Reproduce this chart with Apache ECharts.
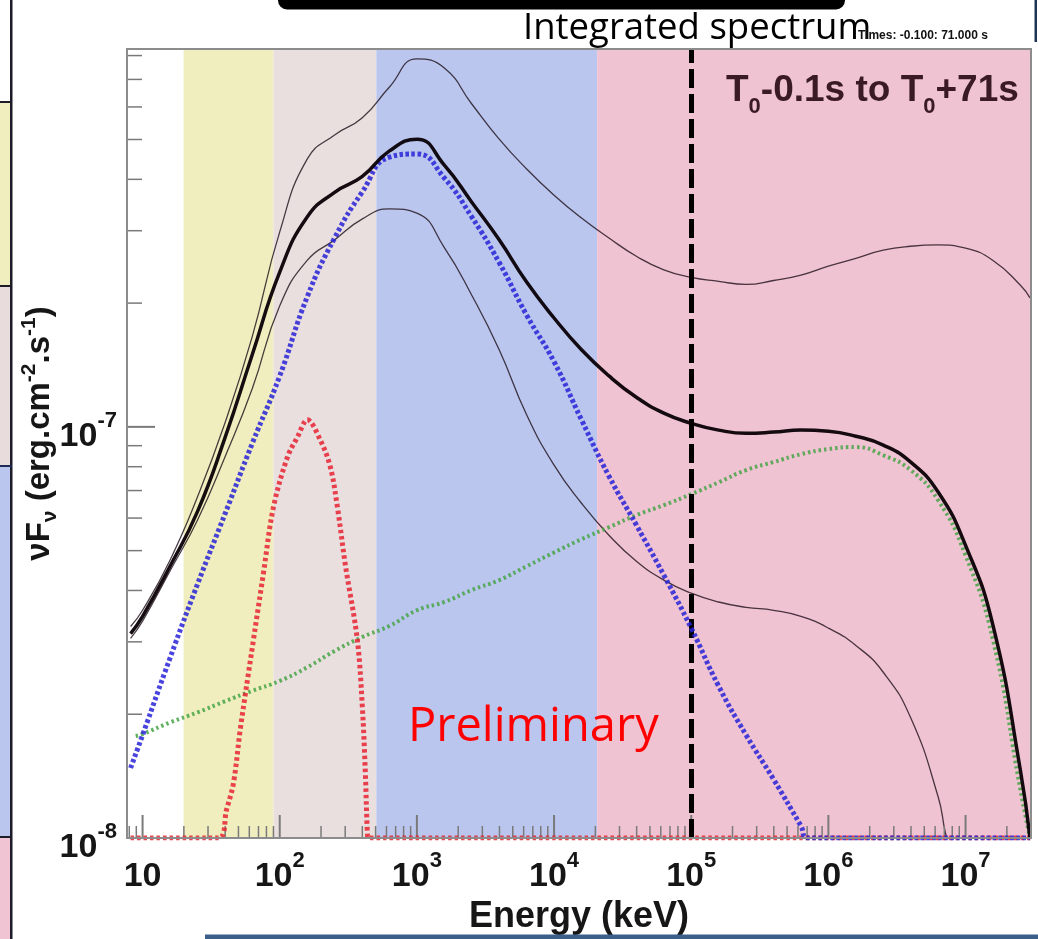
<!DOCTYPE html>
<html>
<head>
<meta charset="utf-8">
<script src="https://cdn.jsdelivr.net/npm/echarts@6/dist/echarts.min.js"></script>
<style>
html,body{margin:0;padding:0;background:#ffffff;}
#chart{width:1038px;height:939px;}
</style>
</head>
<body>
<div id="chart"></div>
<script>
// ---------------- data ----------------
const X_MIN = 7.7, X_MAX = 3.0e7;          // keV
const Y_MIN = 1e-8, Y_MAX = 8.3e-7;        // erg cm^-2 s^-1

// energy grid (keV) shared by total model and upper envelope
const energyGrid = [8.18, 10, 15.85, 25.12, 39.81, 63.1, 100, 158.5, 251.2, 398.1, 631, 1000,
  1585, 2512, 3981, 6310, 1e4, 1.585e4, 2.512e4, 3.981e4, 6.31e4, 1e5, 1.585e5, 2.512e5,
  3.981e5, 6.31e5, 1e6, 1.585e6, 2.512e6, 3.981e6, 6.31e6, 1e7, 1.585e7, 2.512e7, 2.95e7];

const totalFlux = [3.14e-8, 3.46e-8, 4.58e-8, 6.22e-8, 9.39e-8, 1.50e-7, 2.38e-7, 3.24e-7, 3.72e-7,
  4.06e-7, 4.69e-7, 5.01e-7, 4.33e-7, 3.52e-7, 2.85e-7, 2.25e-7, 1.84e-7, 1.54e-7, 1.33e-7,
  1.18e-7, 1.08e-7, 1.02e-7, 9.82e-8, 9.65e-8, 9.71e-8, 9.82e-8, 9.76e-8, 9.49e-8, 9.03e-8,
  8.21e-8, 6.94e-8, 5.15e-8, 3.29e-8, 1.46e-8, 1.0e-8];

const upperFlux = [3.27e-8, 3.58e-8, 4.74e-8, 6.75e-8, 1.02e-7, 1.66e-7, 2.98e-7, 4.48e-7, 5.13e-7,
  5.64e-7, 6.71e-7, 7.85e-7, 7.46e-7, 6.10e-7, 5.01e-7, 4.24e-7, 3.66e-7, 3.22e-7, 2.88e-7,
  2.60e-7, 2.41e-7, 2.31e-7, 2.26e-7, 2.22e-7, 2.27e-7, 2.34e-7, 2.46e-7, 2.57e-7, 2.69e-7,
  2.75e-7, 2.77e-7, 2.72e-7, 2.54e-7, 2.21e-7, 2.06e-7];

const lowerEnergy = [8.18, 10, 15.85, 25.12, 39.81, 63.1, 100, 158.5, 251.2, 398.1, 631, 1000,
  1585, 2512, 3981, 6310, 1e4, 1.585e4, 2.512e4, 3.981e4, 6.31e4, 1e5, 1.585e5, 2.512e5,
  3.981e5, 6.31e5, 1e6, 1.585e6, 2.512e6, 3.981e6, 6.31e6, 7.08e6, 7.3e6];
const lowerFlux = [3.06e-8, 3.37e-8, 4.46e-8, 5.93e-8, 8.44e-8, 1.24e-7, 1.97e-7, 2.54e-7, 2.85e-7,
  3.20e-7, 3.39e-7, 3.31e-7, 2.73e-7, 2.09e-7, 1.54e-7, 1.07e-7, 8.07e-8, 6.52e-8, 5.45e-8,
  4.71e-8, 4.24e-8, 3.94e-8, 3.75e-8, 3.64e-8, 3.58e-8, 3.46e-8, 3.24e-8, 2.94e-8, 2.53e-8,
  1.96e-8, 1.26e-8, 1.04e-8, 1.0e-8];

// Band component (blue dotted)
const bandEnergy = [8.18, 10, 15.85, 25.12, 39.81, 63.1, 100, 158.5, 251.2, 398.1, 631, 1000,
  1585, 2512, 3981, 6310, 1e4, 1.585e4, 2.512e4, 3.981e4, 6.31e4, 1e5, 1.585e5, 2.512e5,
  3.981e5, 6.31e5, 7.1e5, 2.95e7];
const bandFlux = [1.48e-8, 1.78e-8, 2.74e-8, 4.14e-8, 6.13e-8, 9.12e-8, 1.33e-7, 2.07e-7, 2.88e-7,
  3.72e-7, 4.53e-7, 4.61e-7, 4.03e-7, 3.24e-7, 2.51e-7, 1.87e-7, 1.44e-7, 1.04e-7, 7.59e-8,
  5.77e-8, 4.36e-8, 3.24e-8, 2.34e-8, 1.78e-8, 1.39e-8, 1.07e-8, 1.0e-8, 1.0e-8];

// black body component (red dotted)
const bbEnergy = [8.18, 35.8, 40.9, 46.0, 51.7, 64.3, 76.1, 90.0, 113.8, 134.6, 159.1, 197.8,
  234.0, 263.3, 301.0, 368.1, 400.3, 420.9, 435.3, 442.7, 2.99e7];
const bbFlux = [1e-8, 1e-8, 1.17e-8, 1.36e-8, 1.85e-8, 3.03e-8, 4.41e-8, 6.38e-8, 8.44e-8, 9.44e-8,
  1.04e-7, 9.28e-8, 7.98e-8, 6.38e-8, 4.61e-8, 3.03e-8, 2.08e-8, 1.44e-8, 1.03e-8, 1e-8, 1e-8];

// cut-off power law component (green dotted)
const plEnergy = [8.91].concat(energyGrid.slice(1));
const plFlux = [1.77e-8, 1.79e-8, 1.91e-8, 2.02e-8, 2.15e-8, 2.28e-8, 2.41e-8, 2.60e-8, 2.85e-8,
  3.08e-8, 3.28e-8, 3.58e-8, 3.75e-8, 4.01e-8, 4.24e-8, 4.58e-8, 4.95e-8, 5.33e-8, 5.70e-8,
  6.10e-8, 6.45e-8, 6.86e-8, 7.33e-8, 7.85e-8, 8.21e-8, 8.58e-8, 8.83e-8, 8.93e-8, 8.53e-8,
  7.85e-8, 6.63e-8, 4.87e-8, 3.03e-8, 1.31e-8, 1.0e-8];

// detector energy ranges (background bands)
const bandEdges = [19.9, 90, 506, 2.06e4, 3.0e7];
const bandColors = ['#f0eebf', '#eadfdf', '#bac6ee', '#f0c3d3'];

const markerEnergy = 1e5;   // vertical dashed line

// axis tick values
const xTickValues = [8, 9];
for (let d = 1; d <= 7; d++) for (let m = 1; m <= 9; m++) { const v = m * Math.pow(10, d); if (v < X_MAX) xTickValues.push(v); }
const yTickValues = [];
for (let d = -8; d <= -7; d++) for (let m = 1; m <= 9; m++) { const v = m * Math.pow(10, d); if (v < Y_MAX) yTickValues.push(v); }

// ---------------- chart ----------------
const FONT = '"Liberation Sans", Arial, Helvetica, sans-serif';
const pairs = (xs, ys) => xs.map((x, i) => [x, ys[i]]);
const isDecade = v => { const l = Math.log10(v); return Math.abs(l - Math.round(l)) < 1e-6; };
const powLabel = v => {
  const l = Math.log10(v), e = Math.round(l);
  if (Math.abs(l - e) > 1e-6) return '';
  return e === 1 ? '{b|10}' : '{b|10}{s|' + e + '}';
};
const labelRich = {
  b: { fontSize: 34, fontWeight: 'bold', fontFamily: FONT, color: '#161616', lineHeight: 44, verticalAlign: 'bottom' },
  s: { fontSize: 22, fontWeight: 'bold', fontFamily: FONT, color: '#161616', lineHeight: 44, verticalAlign: 'top' }
};
const SMOOTH = 0.5;

const chart = echarts.init(document.getElementById('chart'), null, { renderer: 'canvas' });

const option = {
  animation: false,
  backgroundColor: '#ffffff',
  grid: { left: 127, right: 7, top: 49, bottom: 101, containLabel: false, outerBoundsMode: 'none',
          show: true, borderColor: '#8c8c8c', borderWidth: 2, backgroundColor: 'transparent', z: 10 },
  xAxis: {
    type: 'log', logBase: 10, min: X_MIN, max: X_MAX, splitNumber: 10,
    axisLine: { show: true, lineStyle: { color: '#808080', width: 2 } },
    axisTick: { show: false }, splitLine: { show: false }, minorTick: { show: false },
    axisLabel: { formatter: powLabel, rich: labelRich, margin: 12, interval: 0, hideOverlap: false },
    name: 'Energy (keV)', nameLocation: 'middle', nameGap: 55,
    nameTextStyle: { fontSize: 36, fontWeight: 'bold', fontFamily: FONT, color: '#161616' }
  },
  yAxis: {
    type: 'log', logBase: 10, min: Y_MIN, max: Y_MAX,
    axisLine: { show: true, lineStyle: { color: '#808080', width: 2 } },
    axisTick: { show: false }, splitLine: { show: false }, minorTick: { show: false },
    axisLabel: { formatter: powLabel, rich: labelRich, margin: 10, padding: [10, 0, 0, 0], interval: 0, hideOverlap: false },
    name: '{n|νF}{d|ν}{n| (erg.cm}{u|-2}{n|.s}{u|-1}{n|)}', nameLocation: 'middle', nameGap: 66, nameRotate: 90,
    nameMoveOverlap: false,
    nameTextStyle: {
      padding: [0, 0, 0, 20],
      rich: {
        n: { fontSize: 33, fontWeight: 'bold', fontFamily: FONT, color: '#161616', lineHeight: 42, verticalAlign: 'middle' },
        d: { fontSize: 21, fontWeight: 'bold', fontFamily: FONT, color: '#161616', lineHeight: 42, verticalAlign: 'bottom' },
        u: { fontSize: 21, fontWeight: 'bold', fontFamily: FONT, color: '#161616', lineHeight: 42, verticalAlign: 'top' }
      }
    }
  },
  series: [
    { // background bands
      type: 'line', data: pairs(energyGrid, totalFlux), symbol: 'none', silent: true, z: 1,
      lineStyle: { opacity: 0 },
      markArea: {
        silent: true,
        data: bandColors.map((c, i) => [{ xAxis: bandEdges[i], itemStyle: { color: c } }, { xAxis: bandEdges[i + 1] }])
      }
    },
    { // x-axis ticks (inside)
      type: 'custom', z: 4, silent: true, clip: false,
      data: xTickValues.map(v => [v, Y_MIN]),
      renderItem: (params, api) => {
        const v = api.value(0);
        const p = api.coord([v, Y_MIN]);
        const major = isDecade(v);
        return { type: 'line', shape: { x1: p[0], y1: p[1], x2: p[0], y2: p[1] - (major ? 23 : 12) },
                 style: { stroke: '#7a7a7a', lineWidth: major ? 2 : 1.5 } };
      }
    },
    { // y-axis ticks (inside)
      type: 'custom', z: 4, silent: true, clip: false,
      data: yTickValues.map(v => [X_MIN, v]),
      renderItem: (params, api) => {
        const v = api.value(1);
        const p = api.coord([X_MIN, v]);
        const major = isDecade(v);
        return { type: 'line', shape: { x1: p[0], y1: p[1], x2: p[0] + (major ? 28 : 15), y2: p[1] },
                 style: { stroke: '#7a7a7a', lineWidth: major ? 2 : 1.5 } };
      }
    },
    { type: 'line', name: 'upper', data: pairs(energyGrid, upperFlux), symbol: 'none', smooth: SMOOTH, z: 3,
      lineStyle: { color: 'rgba(30,15,25,0.8)', width: 1.3 } },
    { type: 'line', name: 'lower', data: pairs(lowerEnergy, lowerFlux), symbol: 'none', smooth: SMOOTH, z: 3,
      lineStyle: { color: 'rgba(30,15,25,0.8)', width: 1.3 } },
    { type: 'line', name: 'cutoff PL', data: pairs(plEnergy, plFlux), symbol: 'none', smooth: SMOOTH, z: 4,
      lineStyle: { color: 'rgba(70,165,70,0.85)', width: 4, type: [2.5, 3] } },
    { type: 'line', name: 'BB', data: pairs(bbEnergy, bbFlux), symbol: 'none', smooth: 0.35, z: 4,
      lineStyle: { color: 'rgba(232,35,50,0.85)', width: 5, type: [3.5, 3] } },
    { type: 'line', name: 'Band', data: pairs(bandEnergy, bandFlux), symbol: 'none', smooth: SMOOTH, z: 5,
      lineStyle: { color: 'rgba(40,35,215,0.85)', width: 5, type: [3.5, 2.5] } },
    { type: 'line', name: 'total', data: pairs(energyGrid, totalFlux), symbol: 'none', smooth: SMOOTH, z: 6,
      lineStyle: { color: 'rgba(8,0,5,0.95)', width: 3.5 },
      markLine: {
        silent: true, symbol: ['none', 'none'], label: { show: false },
        lineStyle: { color: '#000000', width: 5, type: [19, 6] },
        data: [{ xAxis: markerEnergy }]
      }
    }
  ],
  graphic: [
    // slide decorations around the figure
    { type: 'rect', z: 50, shape: { x: 278, y: -12, width: 567, height: 21.5, r: 9 }, style: { fill: '#000000' } },
    { type: 'rect', z: 50, shape: { x: 1034.5, y: 0, width: 2.5, height: 42 }, style: { fill: '#1d3552' } },
    { type: 'rect', z: 50, shape: { x: 205, y: 934.5, width: 833, height: 4.5 }, style: { fill: '#3b5f88' } },
    { type: 'rect', z: 50, shape: { x: 0, y: 103, width: 10, height: 182 }, style: { fill: '#f0eebf' } },
    { type: 'rect', z: 50, shape: { x: 0, y: 287, width: 10, height: 178 }, style: { fill: '#e9dcdc' } },
    { type: 'rect', z: 50, shape: { x: 0, y: 467, width: 10, height: 369 }, style: { fill: '#bac6ee' } },
    { type: 'rect', z: 50, shape: { x: 0, y: 838, width: 10, height: 101 }, style: { fill: '#f0c4d3' } },
    { type: 'rect', z: 51, shape: { x: 10, y: 0, width: 2.5, height: 939 }, style: { fill: '#1c1c28' } },
    { type: 'rect', z: 51, shape: { x: 0, y: 101, width: 12, height: 2 }, style: { fill: '#1c1c28' } },
    { type: 'rect', z: 51, shape: { x: 0, y: 285, width: 12, height: 2 }, style: { fill: '#1c1c28' } },
    { type: 'rect', z: 51, shape: { x: 0, y: 465, width: 12, height: 2 }, style: { fill: '#1c2a55' } },
    { type: 'rect', z: 51, shape: { x: 0, y: 836, width: 12, height: 2 }, style: { fill: '#1c1c28' } },
    // texts
    { type: 'text', z: 60, style: { x: 523, y: 29, text: 'Integrated spectrum', fontSize: 36.5,
        fontFamily: '"Open Sans", "Noto Sans", sans-serif', fill: '#000000', verticalAlign: 'middle', align: 'left' } },
    { type: 'text', z: 60, style: { x: 858, y: 36, text: 'Times: -0.100: 71.000 s', fontSize: 12, fontWeight: 'bold',
        fontFamily: FONT, fill: '#111111', verticalAlign: 'middle', align: 'left' } },
    { type: 'text', z: 60, style: { x: 726, y: 72, text: '{b|T}{s|0}{b|-0.1s to T}{s|0}{b|+71s}', align: 'left', verticalAlign: 'top',
        rich: {
          b: { fontSize: 37, fontWeight: 'bold', fontFamily: FONT, fill: '#3a1a24', lineHeight: 46, verticalAlign: 'top' },
          s: { fontSize: 22, fontWeight: 'bold', fontFamily: FONT, fill: '#3a1a24', lineHeight: 46, verticalAlign: 'bottom' }
        } } },
    { type: 'text', z: 60, style: { x: 408, y: 728, text: 'Preliminary', fontSize: 47,
        fontFamily: '"Open Sans", "Noto Sans", sans-serif', fill: '#ff0000', verticalAlign: 'middle', align: 'left' } }
  ]
};
chart.setOption(option);
</script>
</body>
</html>
